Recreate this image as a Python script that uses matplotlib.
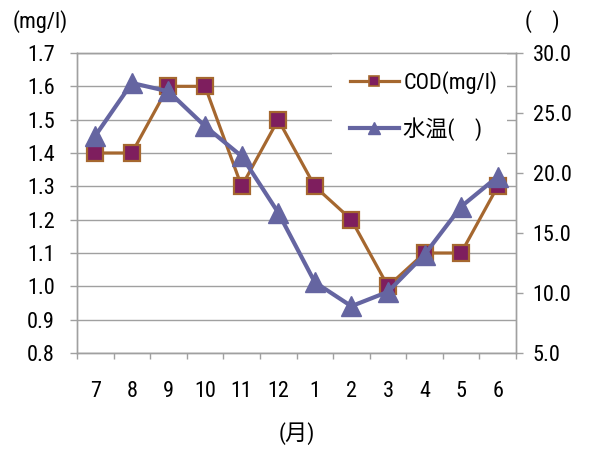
import matplotlib
matplotlib.use("Agg")
import matplotlib.pyplot as plt
from matplotlib.lines import Line2D
from matplotlib.patches import Rectangle
import numpy as np

# Monthly data (July to June)
months = ["7", "8", "9", "10", "11", "12", "1", "2", "3", "4", "5", "6"]
cod = [1.4, 1.4, 1.6, 1.6, 1.3, 1.5, 1.3, 1.2, 1.0, 1.1, 1.1, 1.3]
water_temp = [23.1, 27.5, 26.8, 23.9, 21.4, 16.7, 10.9, 8.9, 10.1, 13.2, 17.2, 19.7]

left_ticks = [0.8, 0.9, 1.0, 1.1, 1.2, 1.3, 1.4, 1.5, 1.6, 1.7]
right_ticks = [5.0, 10.0, 15.0, 20.0, 25.0, 30.0]

plt.rcParams["font.family"] = ["Roboto Condensed", "Noto Sans CJK JP", "DejaVu Sans"]
FS = 16

fig = plt.figure(figsize=(5.89, 4.49), dpi=100)
W, H = 589, 449
ax = fig.add_axes([77 / W, 1 - 353 / H, (516 - 77) / W, 300 / H])
ax2 = ax.twinx()

x = np.arange(len(months))
cod_line = "#A5672F"
cod_face = "#7E1E5E"
tmp_col = "#6565A1"
grid_col = "#A0A0A0"

ax.plot(x, cod, color=cod_line, lw=2.3, marker="s", ms=11,
        mfc=cod_face, mec=cod_line, mew=1.6, zorder=3)
ax2.plot(x, water_temp, color=tmp_col, lw=3.0, marker="^", ms=14,
         mfc=tmp_col, mec=tmp_col, zorder=3)

ax.set_xlim(-0.5, len(months) - 0.5)
ax.set_ylim(0.8, 1.7)
ax2.set_ylim(5.0, 30.0)

ax.set_yticks(left_ticks)
ax.set_yticklabels([f"{v:.1f}" for v in left_ticks])
ax2.set_yticks(right_ticks)
ax2.set_yticklabels([f"{v:.1f}" for v in right_ticks])
ax.grid(axis="y", color=grid_col, lw=1.0)
ax.set_axisbelow(True)

# white panel behind the legend, interrupting the grid
ax2.add_patch(Rectangle(((332 - 77) / 439, (353 - 157) / 300),
                        (507 - 332) / 439, (157 - 54) / 300,
                        transform=ax2.transAxes, facecolor="white", edgecolor="none",
                        zorder=1))

ax.set_xticks(x)
ax.set_xticklabels(months)
ax.set_xticks(np.arange(-0.5, len(months), 1.0), minor=True)
ax.tick_params(axis="x", which="major", length=0, pad=20, labelsize=FS)
ax.tick_params(axis="x", which="minor", length=4.3, color=grid_col, width=1.0, direction="out")
ax.tick_params(axis="y", length=5, color=grid_col, width=1.0, pad=11, labelsize=FS)
ax2.tick_params(axis="y", length=5, color=grid_col, width=1.0, pad=7, labelsize=FS)

for a in (ax, ax2):
    for s in a.spines.values():
        s.set_color(grid_col)
        s.set_linewidth(1.0)

fig.text(40 / W, 1 - 22 / H, "(mg/l)", ha="center", va="center", fontsize=FS)
fig.text(542 / W, 1 - 22 / H, "(    )", ha="center", va="center", fontsize=FS)
fig.text(297 / W, 1 - 434 / H, "(月)", ha="center", va="center", fontsize=FS)

handles = [
    Line2D([], [], color=cod_line, lw=2.3, marker="s", ms=7, mfc=cod_face, mec=cod_line, mew=1.2),
    Line2D([], [], color=tmp_col, lw=3.0, marker="^", ms=9, mfc=tmp_col, mec=tmp_col),
]
leg = ax2.legend(handles, ["COD(mg/l)", "水温(    )"], loc="upper left",
                 bbox_to_anchor=((350 - 77) / 439, (353 - 71) / 300), frameon=False,
                 fontsize=FS, handlelength=2.2, handletextpad=0.2,
                 labelspacing=1.05, borderpad=0, borderaxespad=0)
leg.set_zorder(5)

fig.savefig("out.png", dpi=100)
